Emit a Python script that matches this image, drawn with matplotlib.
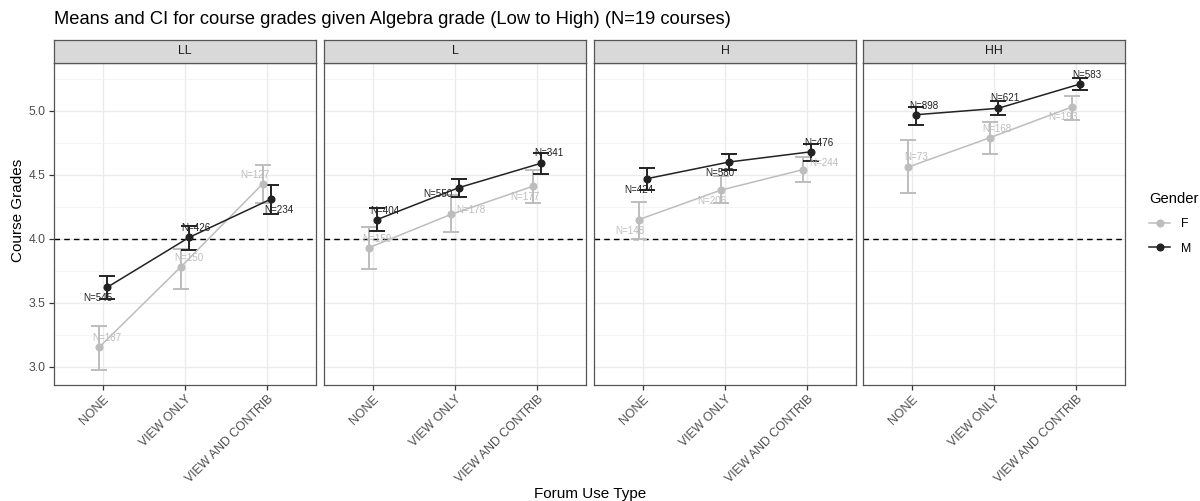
import matplotlib
matplotlib.use("Agg")
import matplotlib.pyplot as plt
from matplotlib.lines import Line2D
from matplotlib.ticker import MultipleLocator
import numpy as np

plt.rcParams['font.family'] = ['Liberation Sans', 'DejaVu Sans']

# ---------------- data ----------------
panels = ["LL", "L", "H", "HH"]
categories = ["NONE", "VIEW ONLY", "VIEW AND CONTRIB"]
genders = ["F", "M"]

f_mean = [[3.15, 3.78, 4.43], [3.93, 4.19, 4.41], [4.15, 4.38, 4.54], [4.56, 4.79, 5.03]]
f_low = [[2.97, 3.61, 4.28], [3.76, 4.05, 4.28], [4.00, 4.28, 4.44], [4.36, 4.66, 4.93]]
f_high = [[3.32, 3.92, 4.58], [4.09, 4.34, 4.54], [4.29, 4.49, 4.64], [4.77, 4.91, 5.12]]
f_n = [[187, 150, 127], [159, 178, 177], [148, 206, 244], [73, 168, 193]]

m_mean = [[3.62, 4.01, 4.31], [4.15, 4.40, 4.59], [4.47, 4.60, 4.68], [4.97, 5.02, 5.21]]
m_low = [[3.53, 3.91, 4.19], [4.06, 4.33, 4.51], [4.38, 4.54, 4.61], [4.89, 4.97, 5.16]]
m_high = [[3.71, 4.10, 4.42], [4.24, 4.47, 4.67], [4.55, 4.66, 4.74], [5.03, 5.08, 5.26]]
m_n = [[545, 426, 234], [404, 550, 341], [424, 580, 476], [898, 621, 583]]

reference_grade = 4.0

# label offsets (pixels) for the N= annotations
f_lab_off = [[(8, 9), (8, 9), (-8, 9)], [(8, 9), (20, 4), (-8, -11)],
             [(-9, -11), (-9, -11), (21, 7)], [(8, 10), (7, 9), (-9, -10)]]
m_lab_off = [[(-9, -11), (7, 9), (8, -11)], [(8, 9), (-21, -6), (8, 10)],
             [(-8, -11), (-9, -11), (8, 9)], [(8, 9), (7, 10), (7, 9)]]

# ---------------- style ----------------
W, H = 1200, 501
colors = {"F": "#BDBDBD", "M": "#222222"}
dodge = {"F": -0.05, "M": 0.05}
series = {
    "F": (f_mean, f_low, f_high, f_n, f_lab_off),
    "M": (m_mean, m_low, m_high, m_n, m_lab_off),
}

fig = plt.figure(figsize=(W / 100, H / 100), dpi=100)

panel_left = [54, 324, 594, 863]
panel_w = 262
panel_top, panel_bot = 63, 385
strip_top = 40

all_low = np.min([f_low, m_low])
all_high = np.max([f_high, m_high])
rng = all_high - all_low
ylim = (all_low - 0.05 * rng, all_high + 0.05 * rng)

x = np.arange(len(categories)) + 1

for p, pname in enumerate(panels):
    ax = fig.add_axes([panel_left[p] / W, 1 - panel_bot / H, panel_w / W,
                       (panel_bot - panel_top) / H])
    ax.set_facecolor("white")
    ax.set_xlim(0.4, 3.6)
    ax.set_ylim(*ylim)
    ax.yaxis.set_major_locator(MultipleLocator(0.5))
    ax.yaxis.set_minor_locator(MultipleLocator(0.25))
    ax.set_xticks(x)
    ax.grid(True, which="major", color="#EBEBEB", lw=1.0, zorder=0)
    ax.grid(True, which="minor", axis="y", color="#F2F2F2", lw=0.6, zorder=0)
    ax.set_axisbelow(True)
    for s in ax.spines.values():
        s.set_color("#555555")
        s.set_linewidth(0.9)
    ax.tick_params(axis="both", which="major", color="#333333", length=3.8,
                   width=0.9, labelsize=8.8, labelcolor="#4D4D4D", pad=2.2)
    ax.tick_params(axis="y", which="minor", length=0)
    if p == 0:
        ax.set_yticklabels([f"{v:.1f}" for v in ax.get_yticks()])
    else:
        ax.tick_params(axis="y", which="major", length=0, labelleft=False)
    ax.set_xticklabels(categories, rotation=45, ha="right", rotation_mode="anchor")

    ax.axhline(reference_grade, color="black", lw=1.0, ls=(0, (4, 3)), zorder=2)

    for g in genders:
        mean, low, high, n, off = series[g]
        xs = x + dodge[g]
        mu = np.array(mean[p])
        lo = np.array(low[p])
        hi = np.array(high[p])
        ax.errorbar(xs, mu, yerr=[mu - lo, hi - mu], fmt="none",
                    ecolor=colors[g], elinewidth=1.4, capsize=6.1,
                    capthick=1.4, zorder=3)
    for g in genders:
        mean, low, high, n, off = series[g]
        xs = x + dodge[g]
        ax.plot(xs, mean[p], color=colors[g], lw=1.1, marker="o", ms=4.8,
                zorder=4)
    for g in genders:
        mean, low, high, n, off = series[g]
        xs = x + dodge[g]
        for i in range(len(categories)):
            ax.annotate(f"N={n[p][i]}", (xs[i], mean[p][i]),
                        xytext=off[p][i], textcoords="offset pixels",
                        ha="center", va="center", fontsize=7.1,
                        color=colors[g], zorder=5)

    # strip
    sax = fig.add_axes([panel_left[p] / W, 1 - panel_top / H, panel_w / W,
                        (panel_top - strip_top) / H])
    sax.set_facecolor("#D9D9D9")
    sax.set_xticks([])
    sax.set_yticks([])
    for s in sax.spines.values():
        s.set_color("#555555")
        s.set_linewidth(0.9)
    sax.text(0.5, 0.5, pname, ha="center", va="center", fontsize=8.8,
             color="#1A1A1A", transform=sax.transAxes)

fig.text(54 / W, 1 - 20 / H,
         "Means and CI for course grades given Algebra grade (Low to High) (N=19 courses)",
         ha="left", va="center", fontsize=13.2, color="black")
fig.text(18 / W, 1 - 210 / H, "Course Grades", rotation=90, ha="center",
         va="center", fontsize=11, color="black")
fig.text(590 / W, 1 - 494 / H, "Forum Use Type", ha="center", va="center",
         fontsize=11, color="black")

handles = [Line2D([], [], color=colors[g], lw=1.1, marker="o", ms=4.8) for g in genders]
leg = fig.legend(handles, genders, loc="upper left",
                 bbox_to_anchor=(1143 / W, 1 - 186 / H), frameon=False,
                 title="Gender", title_fontsize=10.6, fontsize=8.8,
                 handlelength=1.7, handletextpad=0.9, labelspacing=1.0,
                 borderpad=0, alignment="left")

fig.savefig("out.png", dpi=100, facecolor="white")
